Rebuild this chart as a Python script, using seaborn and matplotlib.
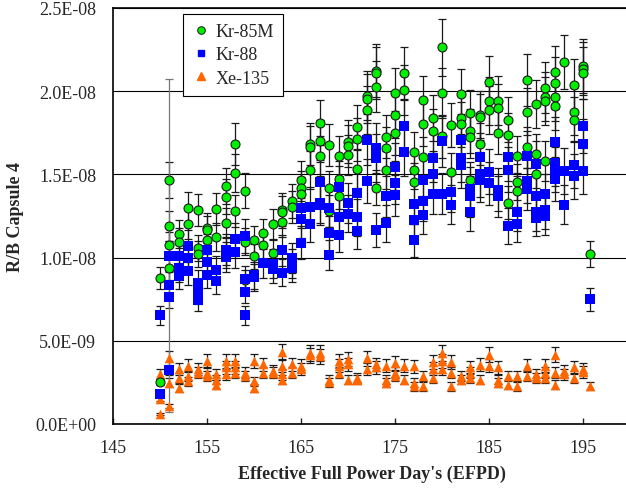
import matplotlib
matplotlib.use("Agg")
import matplotlib.pyplot as plt
import numpy as np
import pandas as pd
import seaborn as sns
from matplotlib.lines import Line2D
from matplotlib.ticker import FuncFormatter, MultipleLocator, FixedLocator

# EFPD columns (one measurement day per column, last one is the odd 195.7)
days = [150, 151, 152, 153, 154, 155, 156, 157, 158, 159, 160, 161, 162,
        163, 164, 165, 166, 167, 168, 169, 170, 171, 172, 173, 174, 175,
        176, 177, 178, 179, 180, 181, 182, 183, 184, 185, 186, 187, 188,
        189, 190, 191, 192, 193, 194, 195, 195.7]
x_ticks = [145, 155, 165, 175, 185, 195]

# R/B values, units of 1E-8, one inner list per day
kr85m = [
    [0.875, 0.253], [1.467, 1.189, 1.073, 0.937], [1.143, 1.093], [1.299, 1.199],
    [1.287, 1.057, 1.023], [1.177, 1.163, 1.107], [1.293, 1.123],
    [1.431, 1.367, 1.209], [1.683, 1.507, 1.281], [1.403, 1.095, 0.863],
    [1.107, 1.007], [1.147, 1.073], [1.200, 1.026], [1.289, 1.275, 1.213],
    [1.339, 1.305], [1.469, 1.417, 1.381], [1.680, 1.665, 1.525],
    [1.811, 1.699, 1.609], [1.677, 1.417, 1.279], [1.611, 1.473, 1.369],
    [1.697, 1.669, 1.617], [1.785, 1.711, 1.533], [1.972, 1.956, 1.887],
    [2.122, 2.109, 2.028, 1.421], [1.727, 1.659, 1.528], [1.992, 1.859, 1.749],
    [2.109, 2.008], [1.633, 1.529, 1.457], [1.948, 1.803, 1.603],
    [1.837, 1.763], [2.264, 1.989, 1.729], [1.797, 1.517],
    [1.984, 1.841, 1.800], [1.869, 1.763, 1.727, 1.467], [1.859, 1.845, 1.685],
    [2.055, 1.942, 1.887], [1.944, 1.902, 1.751], [1.829, 1.737, 1.329],
    [1.609, 1.453, 1.403], [2.068, 1.877, 1.663], [1.924, 1.621, 1.505],
    [2.022, 1.968, 1.942, 1.581], [2.114, 2.049, 1.966, 1.912], [2.174],
    [2.038, 1.877, 1.829], [2.152, 2.136, 2.110], [1.021],
]

kr88 = [
    [0.653, 0.183], [1.009, 0.838, 0.763, 0.325], [1.011, 0.937, 0.889],
    [1.067, 0.999, 0.917], [0.847, 0.790, 0.743], [1.047, 0.971, 0.895],
    [0.927, 0.857], [1.047, 1.029, 1.003], [1.109, 1.033],
    [1.129, 0.869, 0.796, 0.653], [0.893, 0.881], [0.967], [0.963, 0.929],
    [1.043, 0.909], [0.997, 0.965, 0.935], [1.297, 1.229, 1.089],
    [1.305, 1.199], [1.455, 1.329, 1.315], [1.299, 1.145, 1.015],
    [1.423, 1.243, 1.133], [1.327, 1.265], [1.387, 1.243, 1.157],
    [1.709, 1.459], [1.660, 1.600, 1.166], [1.369, 1.205],
    [1.547, 1.451, 1.375], [1.789, 1.637], [1.321, 1.227, 1.103],
    [1.469, 1.343, 1.257], [1.597, 1.503, 1.385], [1.699, 1.385],
    [1.397, 1.319], [1.709, 1.599, 1.559], [1.415, 1.369, 1.273],
    [1.603, 1.501, 1.469], [1.517, 1.447], [1.409, 1.369],
    [1.607, 1.529, 1.189], [1.273, 1.199], [1.613, 1.459, 1.413],
    [1.561, 1.369, 1.273, 1.239], [1.381, 1.289, 1.249],
    [1.692, 1.569, 1.529, 1.473], [1.519, 1.319], [1.559, 1.489],
    [1.791, 1.683, 1.519], [0.749],
]

xe135 = [
    [0.298, 0.152, 0.058], [0.395, 0.247, 0.107], [0.329, 0.278, 0.216],
    [0.350, 0.288, 0.257], [0.329, 0.309], [0.381, 0.309, 0.288],
    [0.298, 0.267, 0.237], [0.381, 0.340, 0.298], [0.381, 0.340, 0.309],
    [0.309, 0.288], [0.381, 0.257, 0.216], [0.360, 0.309], [0.319, 0.309],
    [0.432, 0.350, 0.298, 0.267], [0.360, 0.309], [0.350, 0.329],
    [0.428, 0.412], [0.428, 0.407], [0.267, 0.251], [0.381, 0.350, 0.309],
    [0.391, 0.360, 0.267], [0.278, 0.267], [0.395, 0.329], [0.360, 0.340],
    [0.350, 0.267, 0.247], [0.366, 0.309, 0.288], [0.350, 0.267],
    [0.346, 0.247, 0.226], [0.288, 0.226], [0.374, 0.333, 0.278],
    [0.428, 0.381, 0.329], [0.374, 0.309, 0.226], [0.288, 0.267],
    [0.340, 0.309, 0.278], [0.356, 0.267], [0.416, 0.350],
    [0.340, 0.267, 0.247], [0.288, 0.237], [0.288, 0.226], [0.350, 0.288],
    [0.298, 0.278], [0.350, 0.309, 0.278], [0.416, 0.309, 0.237],
    [0.319, 0.298], [0.340, 0.278], [0.329, 0.313], [0.230],
]

# relative error bar size per isotope, plus the one very wide bar at day 151
rel_err = {"Kr-85M": 0.075, "Kr-88": 0.09, "Xe-135": 0.11}
wide_day, wide_val, wide_err = 151, 1.073, 1.0

UNIT = 1e-8
rows = []
for name, groups in [("Xe-135", xe135), ("Kr-85M", kr85m), ("Kr-88", kr88)]:
    for d, vals in zip(days, groups):
        for v in vals:
            rows.append({"series": name, "efpd": d, "rb": v * UNIT})
df = pd.DataFrame(rows)

sns.set_style("white")
plt.rcParams["font.family"] = ["Liberation Serif", "DejaVu Serif"]

fig = plt.figure(figsize=(6.26, 4.89), dpi=100)
ax = fig.add_axes([113 / 626, 64 / 489, 517 / 626, 416 / 489])

ax.yaxis.grid(True, color="black", linewidth=0.8)
ax.xaxis.grid(False)
ax.set_axisbelow(True)

styles = {
    "Xe-135": dict(marker="^", color="#ff6600", s=48, edgecolor="#ff6600", linewidth=0),
    "Kr-85M": dict(marker="o", color="#00ee00", s=42, edgecolor="#1a1a1a", linewidth=0.8),
    "Kr-88": dict(marker="s", color="#0000ff", s=42, edgecolor="#0000ff", linewidth=0),
}

for name in ["Xe-135", "Kr-85M", "Kr-88"]:
    sub = df[df.series == name]
    ax.errorbar(sub.efpd, sub.rb, yerr=sub.rb * rel_err[name], fmt="none",
                ecolor="#1a1a1a", elinewidth=0.9, capsize=3, capthick=0.9, zorder=2)
ax.errorbar([wide_day], [wide_val * UNIT], yerr=[wide_err * UNIT], fmt="none",
            ecolor="#777777", elinewidth=0.9, capsize=3, capthick=0.9, zorder=2)

for name in ["Xe-135", "Kr-85M", "Kr-88"]:
    sub = df[df.series == name]
    sns.scatterplot(data=sub, x="efpd", y="rb", ax=ax, legend=False, zorder=3,
                    **styles[name])

ax.set_xlim(145, 200)
ax.set_ylim(0, 2.5e-8)
ax.xaxis.set_major_locator(FixedLocator(x_ticks))
ax.yaxis.set_major_locator(MultipleLocator(5e-9))
ax.yaxis.set_major_formatter(FuncFormatter(lambda v, _: f"{v:.1E}"))
ax.tick_params(axis="x", direction="in", length=4, width=1, pad=11, labelsize=13, bottom=True)
ax.tick_params(axis="y", length=0, pad=12, labelsize=13)

for side in ["left", "bottom", "top"]:
    ax.spines[side].set_color("black")
    ax.spines[side].set_linewidth(1.2)
ax.spines["right"].set_visible(False)

ax.set_xlabel("Effective Full Power Day's (EFPD)", fontsize=13, fontweight="bold", labelpad=6)
ax.set_ylabel("R/B Capsule 4", fontsize=13, fontweight="bold", labelpad=8)

handles = [
    Line2D([], [], linestyle="none", marker="o", markersize=5.5, markerfacecolor="#00ee00",
           markeredgecolor="#1a1a1a", markeredgewidth=0.7, label="Kr-85M"),
    Line2D([], [], linestyle="none", marker="s", markersize=5, markerfacecolor="#0000ff",
           markeredgecolor="#0000ff", label="Kr-88"),
    Line2D([], [], linestyle="none", marker="^", markersize=5.5, markerfacecolor="#ff6600",
           markeredgecolor="#ff6600", label="Xe-135"),
]
leg = ax.legend(handles=handles, loc="upper left", bbox_to_anchor=(70 / 517, 410 / 416),
                fontsize=13, frameon=True, fancybox=False, edgecolor="black",
                borderaxespad=0, borderpad=0.5, handlelength=1.0, handletextpad=0.3,
                labelspacing=0.35)
leg.get_frame().set_linewidth(0.8)
leg.get_frame().set_alpha(1)

fig.savefig("out.png", dpi=100)
